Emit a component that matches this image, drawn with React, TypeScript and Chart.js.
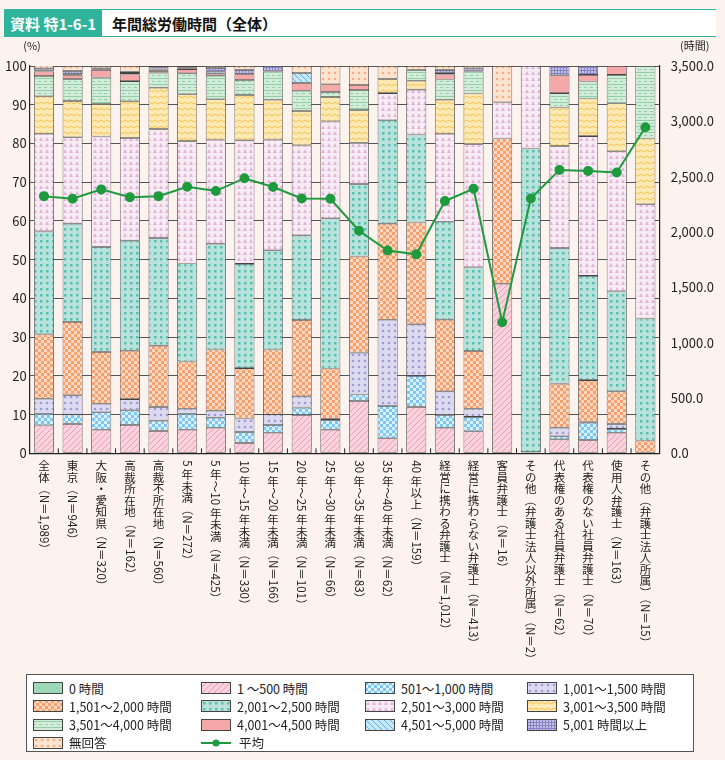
import { useEffect, useRef } from "react"
import { Chart, registerables } from "chart.js"

Chart.register(...registerables)

const categories = [
  "全体（N＝1,989）", "東京（N＝946）", "大阪・愛知県（N＝320）", "高裁所在地（N＝162）", "高裁不所在地（N＝560）",
  "5 年未満（N＝272）", "5 年～10 年未満（N＝425）", "10 年～15 年未満（N＝330）", "15 年～20 年未満（N＝166）",
  "20 年～25 年未満（N＝101）", "25 年～30 年未満（N＝66）", "30 年～35 年未満（N＝83）", "35 年～40 年未満（N＝62）",
  "40 年以上（N＝159）", "経営に携わる弁護士（N＝1,012）", "経営に携わらない弁護士（N＝413）", "客員弁護士（N＝16）",
  "その他（弁護士法人以外所属）（N＝2）", "代表権のある社員弁護士（N＝62）", "代表権のない社員弁護士（N＝70）",
  "使用人弁護士（N＝163）", "その他（弁護士法人所属）（N＝15）",
]

const h0 = [0.2, 0, 0, 0, 0.2, 0, 0, 0, 0, 0, 0, 0, 0, 0, 0, 0, 0, 0.3, 0, 0, 0, 0]
const h500 = [7, 7.6, 6.1, 7.3, 5.6, 6.1, 6.6, 2.7, 5.3, 9.9, 6.1, 13.5, 3.9, 12, 6.6, 5.7, 43.8, 0, 3.6, 3.4, 5.3, 0]
const h1000 = [3, 2.4, 4.5, 3.8, 2.6, 4.1, 2.6, 2.8, 2, 1.9, 2.5, 1.7, 8.3, 8, 3.3, 3.7, 0, 0, 0.8, 4.5, 1, 0]
const h1500 = [3.9, 5, 2.2, 2.9, 3.6, 1.3, 1.8, 3.5, 2.7, 2.9, 0.3, 10.8, 22.3, 13.3, 6.1, 2.1, 0, 0, 2.2, 0.3, 1.3, 0]
const h2000 = [16.6, 18.9, 13.4, 12.5, 15.8, 12.2, 15.8, 13, 16.8, 19.7, 13, 24.8, 24.8, 26.3, 18.5, 14.9, 37.5, 0, 11.4, 10.7, 8.4, 3.3]
const h2500 = [26.6, 25.4, 27.1, 28.4, 27.8, 25.3, 27.3, 26.9, 25.6, 21.9, 38.8, 18.7, 26.7, 22.7, 25.3, 21.6, 0, 78.4, 35, 26.9, 25.8, 31.5]
const h3000 = [25.2, 22.3, 28.5, 26.5, 28.1, 31.6, 26.9, 31.9, 28.6, 23.2, 25, 10.7, 7, 11.6, 22.7, 31.8, 9.3, 21.3, 26.3, 36.1, 36.2, 29.5]
const h3500 = [9.7, 9.4, 8.4, 9.5, 10.7, 12.1, 10.4, 11.7, 10.3, 8.9, 6.3, 8.4, 3.6, 2.3, 8.8, 13.1, 0, 0, 10, 9.7, 12.4, 17]
const h4000 = [5.2, 5.6, 6.8, 5.2, 3.9, 5.4, 6.1, 3.9, 7.3, 5.2, 1.3, 5.2, 0, 2.8, 5.2, 5.7, 0, 0, 3.7, 4.4, 7.3, 18.7]
const h4500 = [1.2, 1, 2, 1.7, 0.5, 1.1, 0.5, 1.5, 0, 2, 2, 1.3, 0, 0, 1.3, 0, 0, 0, 4.6, 1.7, 2.3, 0]
const h5000 = [0.3, 0.3, 0, 0.4, 0.3, 0.2, 0.5, 0, 0, 2.6, 0, 0, 0, 0, 0.4, 0, 0, 0, 0, 0, 0, 0]
const h5001 = [0.5, 0.8, 0.4, 0.3, 0.6, 0.3, 1, 1.1, 1.4, 0, 0, 0, 0, 0, 0.8, 0.8, 0, 0, 2.4, 2.3, 0, 0]
const noAnswer = [0.8, 1.3, 0.6, 1.5, 0.3, 0.3, 0.5, 1, 0, 1.8, 4.7, 4.9, 3.4, 1, 1, 0.6, 9.4, 0, 0, 0, 0, 0]
const average = [2324, 2300, 2385, 2315, 2324, 2409, 2370, 2486, 2406, 2303, 2300, 2011, 1832, 1798, 2279, 2391, 1185, 2303, 2561, 2552, 2537, 2947]

type Pat = "plain" | "diag" | "check" | "dots" | "squares" | "tri" | "zig" | "lines" | "rdiag" | "grid"

const seriesDefs: { label: string; data: number[]; bg: string; fg: string; pat: Pat }[] = [
  { label: "0 時間", data: h0, bg: "#9fd8b9", fg: "#9fd8b9", pat: "plain" },
  { label: "1 ～500 時間", data: h500, bg: "#f9d3dd", fg: "#f09ab2", pat: "diag" },
  { label: "501～1,000 時間", data: h1000, bg: "#d9f0fb", fg: "#7cc6ef", pat: "check" },
  { label: "1,001～1,500 時間", data: h1500, bg: "#dcdaf0", fg: "#a09bd2", pat: "dots" },
  { label: "1,501～2,000 時間", data: h2000, bg: "#fcd9c0", fg: "#f5a070", pat: "check" },
  { label: "2,001～2,500 時間", data: h2500, bg: "#b9e2dc", fg: "#5bbfb0", pat: "squares" },
  { label: "2,501～3,000 時間", data: h3000, bg: "#f8ecf4", fg: "#e2b4d7", pat: "tri" },
  { label: "3,001～3,500 時間", data: h3500, bg: "#fde9b3", fg: "#f6c04f", pat: "zig" },
  { label: "3,501～4,000 時間", data: h4000, bg: "#d2ecd9", fg: "#93cfa6", pat: "lines" },
  { label: "4,001～4,500 時間", data: h4500, bg: "#f4a9a8", fg: "#f4a9a8", pat: "plain" },
  { label: "4,501～5,000 時間", data: h5000, bg: "#c8e7f7", fg: "#5ab3e6", pat: "rdiag" },
  { label: "5,001 時間以上", data: h5001, bg: "#c3c0e6", fg: "#8883c4", pat: "grid" },
  { label: "無回答", data: noAnswer, bg: "#fde4d0", fg: "#f5ad84", pat: "dots" },
]

function makePattern(bg: string, fg: string, pat: Pat): CanvasPattern | string {
  if (pat === "plain") return bg
  const c = document.createElement("canvas")
  c.width = 6
  c.height = 6
  const g = c.getContext("2d")!
  g.fillStyle = bg
  g.fillRect(0, 0, 6, 6)
  g.fillStyle = fg
  g.strokeStyle = fg
  g.lineWidth = 1
  if (pat === "diag" || pat === "rdiag") {
    g.beginPath()
    if (pat === "diag") { g.moveTo(0, 6); g.lineTo(6, 0); g.moveTo(-1, 1); g.lineTo(1, -1); g.moveTo(5, 7); g.lineTo(7, 5) }
    else { g.moveTo(0, 0); g.lineTo(6, 6); g.moveTo(5, -1); g.lineTo(7, 1); g.moveTo(-1, 5); g.lineTo(1, 7) }
    g.stroke()
  } else if (pat === "check") {
    g.fillRect(0, 0, 3, 3)
    g.fillRect(3, 3, 3, 3)
  } else if (pat === "dots") {
    g.beginPath(); g.arc(3, 3, 1.3, 0, Math.PI * 2); g.fill()
  } else if (pat === "squares") {
    g.fillRect(2, 2, 2.5, 2.5)
  } else if (pat === "tri") {
    g.beginPath(); g.moveTo(3, 1); g.lineTo(5, 5); g.lineTo(1, 5); g.fill()
  } else if (pat === "zig") {
    g.beginPath(); g.moveTo(0, 4); g.lineTo(3, 2); g.lineTo(6, 4); g.stroke()
  } else if (pat === "lines") {
    g.fillRect(0, 2, 6, 1)
    g.fillRect(0, 5, 3, 1)
  } else if (pat === "grid") {
    g.fillRect(0, 0, 6, 1)
    g.fillRect(0, 0, 1, 6)
    g.fillRect(3, 0, 1, 6)
    g.fillRect(0, 3, 6, 1)
  }
  return g.createPattern(c, "repeat")!
}

const FONT = "'Noto Sans CJK JP', 'Noto Sans', sans-serif"
const LABEL_SIZE = 11.5

// upright for CJK, rotated for latin and some full-width punctuation
function isUpright(ch: string) {
  const c = ch.charCodeAt(0)
  if ("（）＝～".includes(ch)) return false
  return c >= 0x3000
}

function drawVertical(ctx: CanvasRenderingContext2D, text: string, x: number, y: number, size: number) {
  let cy = y
  let run = ""
  const flush = () => {
    if (!run) return
    const w = ctx.measureText(run).width
    ctx.save()
    ctx.translate(x, cy)
    ctx.rotate(Math.PI / 2)
    ctx.textAlign = "left"
    ctx.textBaseline = "middle"
    ctx.fillText(run, 0, 0)
    ctx.restore()
    cy += w
    run = ""
  }
  for (const ch of text) {
    if (isUpright(ch)) {
      flush()
      ctx.textAlign = "center"
      ctx.textBaseline = "top"
      ctx.fillText(ch, x, cy)
      cy += size
    } else {
      run += ch
    }
  }
  flush()
}

const verticalLabels = {
  id: "verticalLabels",
  afterDraw(chart: Chart) {
    const ctx = chart.ctx
    const x = chart.scales.x
    ctx.save()
    ctx.font = `${LABEL_SIZE}px ${FONT}`
    ctx.fillStyle = "#222"
    categories.forEach((lab, i) => {
      drawVertical(ctx, lab, x.getPixelForValue(i), x.top + 7, LABEL_SIZE)
    })
    // small separators between categories
    ctx.strokeStyle = "#222"
    ctx.lineWidth = 1
    for (let i = 0; i < categories.length - 1; i++) {
      const px = (x.getPixelForValue(i) + x.getPixelForValue(i + 1)) / 2
      ctx.beginPath()
      ctx.moveTo(px, x.top)
      ctx.lineTo(px, x.top - 5)
      ctx.stroke()
    }
    ctx.font = `11px ${FONT}`
    ctx.textAlign = "center"
    ctx.textBaseline = "alphabetic"
    ctx.fillText("(%)", 30, chart.chartArea.top - 16)
    ctx.fillText("(時間)", chart.chartArea.right + 35, chart.chartArea.top - 16)
    ctx.restore()
  },
}

function ChartBox() {
  const ref = useRef<HTMLCanvasElement>(null)
  useEffect(() => {
    if (!ref.current) return
    const datasets: any[] = seriesDefs.map((s) => ({
      type: "bar",
      label: s.label,
      data: s.data,
      backgroundColor: makePattern(s.bg, s.fg, s.pat),
      borderColor: "#444",
      borderWidth: 0.8,
      borderSkipped: false,
      barPercentage: 0.7,
      categoryPercentage: 1,
      yAxisID: "y",
      order: 2,
    }))
    datasets.push({
      type: "line",
      label: "平均",
      data: average,
      borderColor: "#1f9a3e",
      backgroundColor: "#1f9a3e",
      borderWidth: 2,
      pointRadius: 4,
      yAxisID: "y2",
      order: 1,
    })
    const chart = new Chart(ref.current, {
      type: "bar",
      data: { labels: categories, datasets },
      options: {
        animation: false,
        responsive: false,
        layout: { padding: { top: 26, bottom: 0, left: 0, right: 0 } },
        plugins: { legend: { display: false }, tooltip: { enabled: false } },
        scales: {
          x: {
            stacked: true,
            grid: { display: false },
            border: { color: "#222", width: 1.2 },
            ticks: { display: true, color: "transparent", font: { size: 12 }, minRotation: 90, maxRotation: 90, callback: () => "全体（N＝1,989）xxxxxxxxxxxxxxxxx" },
          },
          y: {
            stacked: true,
            min: 0,
            max: 100,
            ticks: { stepSize: 10, color: "#222", font: { size: 13, family: FONT } },
            grid: { color: "#555", lineWidth: 1, drawTicks: false },
            border: { color: "#222", width: 1.2 },
          },
          y2: {
            position: "right",
            min: 0,
            max: 3500,
            ticks: { stepSize: 500, color: "#222", font: { size: 13, family: FONT }, callback: (v) => Number(v).toLocaleString("en-US", { minimumFractionDigits: 1 }) },
            grid: { display: false },
            border: { color: "#222", width: 1.2 },
          },
        },
      },
      plugins: [verticalLabels],
    })
    return () => chart.destroy()
  }, [])
  return <canvas ref={ref} width={715} height={628} style={{ display: "block" }} />
}

function LegendSwatch({ s }: { s: (typeof seriesDefs)[number] }) {
  const ref = useRef<HTMLCanvasElement>(null)
  useEffect(() => {
    const g = ref.current?.getContext("2d")
    if (!g) return
    g.fillStyle = makePattern(s.bg, s.fg, s.pat) as any
    g.fillRect(0, 0, 30, 12)
    g.strokeStyle = "#444"
    g.strokeRect(0.5, 0.5, 29, 11)
  }, [s])
  return <canvas ref={ref} width={30} height={12} style={{ marginRight: 6 }} />
}

export default function App() {
  useEffect(() => {
    document.body.style.margin = "0"
  }, [])
  return (
    <div style={{ width: 725, height: 760, background: "#fdf3ee", fontFamily: FONT, position: "relative", overflow: "hidden" }}>
      <div style={{ position: "absolute", left: 4, top: 9, width: 712, height: 26, background: "#fff", borderTop: "1px solid #2fb39b", borderBottom: "1px solid #2fb39b", display: "flex", alignItems: "center" }}>
        <div style={{ background: "#2fb39b", color: "#fff", height: "100%", padding: "0 6px", display: "flex", alignItems: "center", fontSize: 15, fontWeight: 700 }}>資料 特1-6-1</div>
        <div style={{ marginLeft: 10, fontSize: 15, fontWeight: 700, color: "#111" }}>年間総労働時間（全体）</div>
      </div>
      <div style={{ position: "absolute", left: 2, top: 40 }}>
        <ChartBox />
      </div>
      <div style={{ position: "absolute", left: 26, top: 674, width: 668, height: 78, background: "#fff", border: "1px solid #555", boxSizing: "border-box", padding: "5px 0 0 6px", display: "grid", gridTemplateColumns: "168px 164px 162px 160px", rowGap: 2, fontSize: 12.5, color: "#222" }}>
        {seriesDefs.map((s) => (
          <div key={s.label} style={{ display: "flex", alignItems: "center", height: 16 }}>
            <LegendSwatch s={s} />
            {s.label}
          </div>
        ))}
        <div style={{ display: "flex", alignItems: "center", height: 16 }}>
          <svg width={34} height={12} style={{ marginRight: 4 }}>
            <line x1={0} y1={6} x2={30} y2={6} stroke="#1f9a3e" strokeWidth={2} />
            <circle cx={15} cy={6} r={3.5} fill="#1f9a3e" />
          </svg>
          平均
        </div>
      </div>
    </div>
  )
}
